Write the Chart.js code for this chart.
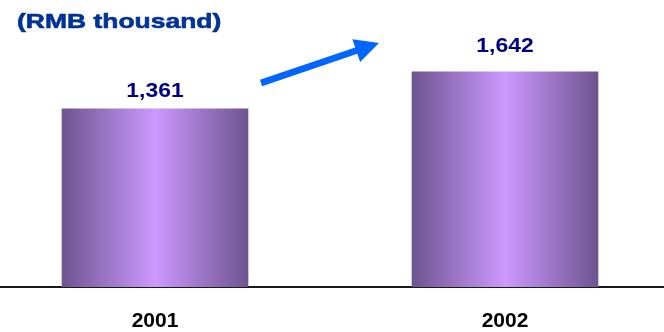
<!DOCTYPE html>
<html>
<head>
<meta charset="utf-8">
<script src="https://cdn.jsdelivr.net/npm/chart.js@4.4.1/dist/chart.umd.min.js"></script>
<style>
  html, body { margin: 0; padding: 0; background: #fff; }
  #wrap { position: relative; width: 664px; height: 332px; }
</style>
</head>
<body>
<div id="wrap"><canvas id="chart"></canvas></div>
<script>
// Revenue per year, RMB thousand
const years = ['2001', '2002'];
const revenue = [1361, 1642];
const unitLabel = '(RMB thousand)';

const FONT = 'Arial, "Liberation Sans", sans-serif';
const BAR_W = 186;

// horizontal shading for each bar: dark edges, light middle
function barGradient(ctx) {
  const chart = ctx.chart;
  if (!chart.chartArea || ctx.type !== 'data') return '#a57ad6';
  const cx = chart.scales.x.getPixelForValue(ctx.dataIndex + 1);
  const g = chart.ctx.createLinearGradient(cx - BAR_W / 2, 0, cx + BAR_W / 2, 0);
  g.addColorStop(0, '#6e5490');
  g.addColorStop(0.5, '#cc99ff');
  g.addColorStop(1, '#6e5490');
  return g;
}

const fmt = v => v.toLocaleString('en-US');

// text drawn a little wider than the font's natural width
function wideText(c, text, x, y, sx, bold) {
  c.save();
  c.translate(x, y);
  c.scale(sx, 1);
  c.fillText(text, 0, 0);
  if (bold) {
    c.lineWidth = bold;
    c.strokeStyle = c.fillStyle;
    c.strokeText(text, 0, 0);
  }
  c.restore();
}

// unit caption, value labels and the growth arrow
const decorations = {
  id: 'decorations',
  afterDatasetsDraw(chart) {
    const c = chart.ctx;
    const bars = chart.getDatasetMeta(0).data;
    c.save();

    c.font = 'bold 21px ' + FONT;
    c.fillStyle = '#003399';
    c.textAlign = 'left';
    c.textBaseline = 'alphabetic';
    wideText(c, unitLabel, 17, 28, 1.26, 0.6);

    c.font = 'bold 21px ' + FONT;
    c.fillStyle = '#000080';
    c.textAlign = 'center';
    const gaps = [12, 20];
    bars.forEach((b, i) => {
      wideText(c, fmt(revenue[i]), b.x, b.y - gaps[i], 1.09);
    });

    // arrow from the first label towards the second
    const x0 = 261, y0 = 83, x1 = 379, y1 = 43;
    const ang = Math.atan2(y1 - y0, x1 - x0);
    const headLen = 24, headW = 12, shaft = 3.3;
    const bx = x1 - headLen * Math.cos(ang), by = y1 - headLen * Math.sin(ang);
    const nx = -Math.sin(ang), ny = Math.cos(ang);
    c.fillStyle = '#0066ff';
    c.beginPath();
    c.moveTo(x0 + nx * shaft, y0 + ny * shaft);
    c.lineTo(bx + nx * shaft, by + ny * shaft);
    c.lineTo(bx + nx * headW, by + ny * headW);
    c.lineTo(x1, y1);
    c.lineTo(bx - nx * headW, by - ny * headW);
    c.lineTo(bx - nx * shaft, by - ny * shaft);
    c.lineTo(x0 - nx * shaft, y0 - ny * shaft);
    c.closePath();
    c.fill();

    c.restore();
  }
};

new Chart(document.getElementById('chart'), {
  type: 'bar',
  data: {
    datasets: [{
      data: years.map((y, i) => ({ x: i + 1, y: revenue[i] })),
      backgroundColor: barGradient,
      borderWidth: 0,
      barThickness: BAR_W
    }]
  },
  options: {
    responsive: true,
    maintainAspectRatio: false,
    animation: false,
    layout: { padding: { top: 25, bottom: 0, left: 0, right: 0 } },
    plugins: {
      legend: { display: false },
      tooltip: { enabled: false }
    },
    scales: {
      x: {
        type: 'linear',
        offset: false,
        min: 0.5571,
        max: 2.4543,
        afterBuildTicks(scale) {
          scale.ticks = years.map((y, i) => ({ value: i + 1 }));
        },
        afterFit(scale) {
          scale.height = 45;
        },
        grid: { display: false, drawTicks: false },
        border: { display: true, color: '#1a1a1a', width: 2 },
        ticks: {
          autoSkip: false,
          maxRotation: 0,
          padding: 24,
          color: '#000',
          font: { family: FONT, size: 21, weight: 'bold', lineHeight: 1.0 },
          callback: v => years[v - 1]
        }
      },
      y: {
        display: false,
        min: 0,
        max: 2000
      }
    }
  },
  plugins: [decorations]
});
</script>
</body>
</html>
